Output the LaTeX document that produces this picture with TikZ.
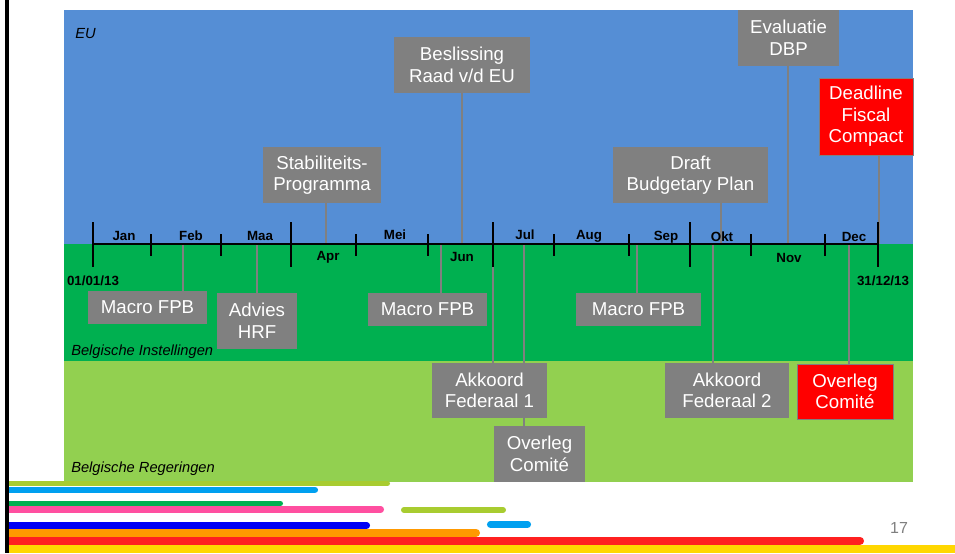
\documentclass[tikz,border=0pt]{standalone}
\usepackage{fontspec}
\setmainfont{Liberation Sans}
\pgfdeclarelayer{bg}
\pgfdeclarelayer{conn}
\pgfsetlayers{bg,conn,main}
\definecolor{eublue}{HTML}{558ED5}
\definecolor{bigreen}{HTML}{00B050}
\definecolor{rglight}{HTML}{92D050}
\definecolor{boxgray}{HTML}{808080}
\definecolor{boxred}{HTML}{FF0000}
\definecolor{stolive}{HTML}{A8CC30}
\definecolor{stlblue}{HTML}{00A0F0}
\definecolor{stgreen}{HTML}{00B050}
\definecolor{stpink}{HTML}{FF4FA0}
\definecolor{stblue}{HTML}{0000F5}
\definecolor{storange}{HTML}{FF9900}
\definecolor{stred}{HTML}{FF2020}
\definecolor{styellow}{HTML}{FFD700}
\definecolor{pagegray}{HTML}{7F7F7F}
\tikzset{
  evbox/.style={fill=boxgray, text=white, font=\fontsize{14}{16.2}\selectfont,
    align=center, inner sep=0pt},
  redbox/.style={evbox, fill=boxred, draw=boxgray, line width=0.75pt},
  conn/.style={draw=boxgray, line width=1.6pt},
  axisline/.style={draw=black, line width=1.6pt},
  tickmark/.style={draw=black, line width=1.5pt},
  mlab/.style={font=\bfseries\fontsize{10}{12}\selectfont, anchor=base, inner sep=0pt},
  reglab/.style={font=\itshape\fontsize{11}{13}\selectfont, anchor=base west, inner sep=0pt},
  stripe/.style={line cap=round},
}
\begin{document}
\begin{tikzpicture}[x=0.75pt,y=-0.75pt]
\useasboundingbox (0,0) rectangle (955,553);
% bands
\begin{pgfonlayer}{bg}
\fill[eublue] (64,10) rectangle (913,243.5);
\fill[bigreen] (64,243.5) rectangle (913,361);
\fill[rglight] (64,361) rectangle (913,482);
\end{pgfonlayer}
% region labels
\node[reglab] (lEU) at (75,38) {EU};
\node[reglab] (lBI) at (71,355) {Belgische Instellingen};
\node[reglab] (lBR) at (71,472) {Belgische Regeringen};
% axis points
\coordinate (axL) at (93,244);
\coordinate (axR) at (878,244);
\coordinate (pStab) at (325.7,244);
\coordinate (pBesl) at (462,244);
\coordinate (pDraft) at (720.7,244);
\coordinate (pEval) at (788.3,244);
\coordinate (pDFC) at (879,244);
\coordinate (pMac1) at (183.3,244);
\coordinate (pHRF) at (256.7,244);
\coordinate (pMac2) at (440.7,244);
\coordinate (pMac3) at (637,244);
\coordinate (pAk1) at (493.3,244);
\coordinate (pOC1) at (524,244);
\coordinate (pAk2) at (712.7,244);
\coordinate (pOC2) at (849,244);
% boxes
\node[evbox, minimum width=88.5pt, minimum height=42pt] (stab) at (322,175) {Stabiliteits-\\Programma};
\node[evbox, minimum width=102pt, minimum height=42pt] (besl) at (462,65) {Beslissing\\Raad v/d EU};
\node[evbox, minimum width=116.25pt, minimum height=42pt] (draft) at (690.5,175) {Draft\\Budgetary Plan};
\node[evbox, minimum width=75.75pt, minimum height=42pt] (eval) at (788.5,38) {Evaluatie\\DBP};
\node[redbox, minimum width=70.5pt, minimum height=57.75pt] (dfc) at (866,116.5) {Deadline\\Fiscal\\Compact};
\node[evbox, minimum width=89.25pt, minimum height=24.75pt] (mac1) at (147.5,307.5) {Macro FPB};
\node[evbox, minimum width=60pt, minimum height=42pt] (hrf) at (257,321) {Advies\\HRF};
\node[evbox, minimum width=89.25pt, minimum height=24.75pt] (mac2) at (427.5,309.5) {Macro FPB};
\node[evbox, minimum width=93.75pt, minimum height=24.75pt] (mac3) at (638.5,309.5) {Macro FPB};
\node[evbox, minimum width=86.25pt, minimum height=41.25pt] (ak1) at (489.5,390.5) {Akkoord\\Federaal 1};
\node[evbox, minimum width=68.25pt, minimum height=42pt] (oc1) at (539.5,454) {Overleg\\Comité};
\node[evbox, minimum width=93pt, minimum height=41.25pt] (ak2) at (727,390.5) {Akkoord\\Federaal 2};
\node[redbox, minimum width=72pt, minimum height=41.25pt] (oc2) at (845,391.5) {Overleg\\Comité};
% connectors
\begin{pgfonlayer}{conn}
\draw[conn] (stab.south -| pStab) -- (pStab);
\draw[conn] (besl.south -| pBesl) -- (pBesl);
\draw[conn] (draft.south -| pDraft) -- (pDraft);
\draw[conn] (eval.south -| pEval) -- (pEval);
\draw[conn] (dfc.south -| pDFC) -- (pDFC);
\draw[conn] (pMac1) -- (mac1.north -| pMac1);
\draw[conn] (pHRF) -- (hrf.north -| pHRF);
\draw[conn] (pMac2) -- (mac2.north -| pMac2);
\draw[conn] (pMac3) -- (mac3.north -| pMac3);
\draw[conn] (pAk1) -- (ak1.north -| pAk1);
\draw[conn] (pOC1) -- (oc1.north -| pOC1);
\draw[conn] (pAk2) -- (ak2.north -| pAk2);
\draw[conn] (pOC2) -- (oc2.north -| pOC2);
\end{pgfonlayer}
% axis and ticks
\draw[axisline] (axL) -- (axR);
\foreach \x in {93,291,493,690,878} \draw[tickmark] (\x,222) -- (\x,267);
\foreach \x in {151,221,356,428,554,629,751,825} \draw[tickmark] (\x,234) -- (\x,256);
% month labels
\node[mlab] (mJan) at (124,240) {Jan};
\node[mlab] (mFeb) at (191,240) {Feb};
\node[mlab] (mMaa) at (260,240) {Maa};
\node[mlab] (mApr) at (328,260) {Apr};
\node[mlab] (mMei) at (395,239.5) {Mei};
\node[mlab] (mJun) at (462,261) {Jun};
\node[mlab] (mJul) at (525,239.5) {Jul};
\node[mlab] (mAug) at (589,239.5) {Aug};
\node[mlab] (mSep) at (666,240.5) {Sep};
\node[mlab] (mOkt) at (722,241.5) {Okt};
\node[mlab] (mNov) at (789,262.5) {Nov};
\node[mlab] (mDec) at (854,241.5) {Dec};
\node[mlab] (dStart) at (93,285) {01/01/13};
\node[mlab] (dEnd) at (883,285) {31/12/13};
% decorative stripes
\begin{scope}
\clip (9,470) rectangle (955,553);
\draw[stripe, stolive, line width=3.75pt] (0,483.5) -- (387.5,483.5);
\draw[stripe, stlblue, line width=4.9pt] (0,489.8) -- (314.8,489.8);
\draw[stripe, stgreen, line width=3.75pt] (0,503.5) -- (280.5,503.5);
\draw[stripe, stpink, line width=5pt] (0,509.4) -- (380.7,509.4);
\draw[stripe, stolive, line width=4.5pt] (404,510) -- (503,510);
\draw[stripe, stblue, line width=5pt] (0,525.3) -- (366.7,525.3);
\draw[stripe, stlblue, line width=5pt] (490.3,524.3) -- (527.7,524.3);
\draw[stripe, storange, line width=6pt] (0,532.7) -- (476,532.7);
\draw[stripe, stred, line width=6.2pt] (0,540.8) -- (859.9,540.8);
\fill[styellow] (0,545) rectangle (955,553);
\end{scope}
\node[text=pagegray, font=\fontsize{12}{14}\selectfont, inner sep=0pt] (pg) at (899,528) {17};
% left rule
\draw[black, line width=2.4pt] (7,0) -- (7,553);
\end{tikzpicture}
\end{document}
